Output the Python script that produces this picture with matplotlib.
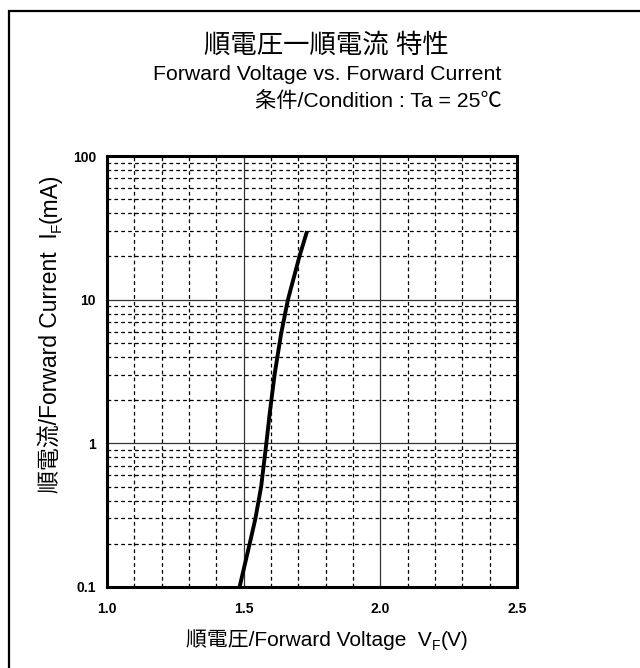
import matplotlib
matplotlib.use("Agg")
import matplotlib.pyplot as plt
from matplotlib.patches import Rectangle
from matplotlib.ticker import FixedLocator, NullFormatter

# Data
vf = [1.485, 1.522, 1.543, 1.564, 1.583, 1.595, 1.613, 1.637, 1.662, 1.704, 1.732]
i_f = [0.1, 0.2, 0.3, 0.5, 1.0, 1.6, 3.0, 5.8, 10.0, 20.0, 30.0]

x_ticks = [1.0, 1.5, 2.0, 2.5]
x_tick_labels = ["1.0", "1.5", "2.0", "2.5"]
y_ticks = [0.1, 1, 10, 100]
y_tick_labels = ["0.1", "1", "10", "100"]
x_minor = [1.1, 1.2, 1.3, 1.4, 1.6, 1.7, 1.8, 1.9, 2.1, 2.2, 2.3, 2.4]
y_minor = [m * d for d in (0.1, 1, 10) for m in range(2, 10)]

title = "順電圧一順電流 特性"
subtitle = "Forward Voltage vs. Forward Current"
condition = "条件/Condition : Ta = 25℃"
xlabel_parts = ["順電圧/Forward Voltage  V", "F", "(V)"]
ylabel_parts = ["順電流/Forward Current  I", "F", "(mA)"]

FONT = ["Liberation Sans", "Noto Sans CJK JP", "DejaVu Sans"]
plt.rcParams["font.family"] = FONT

W, H = 640, 668
fig = plt.figure(figsize=(W / 100, H / 100), dpi=100)

# outer border (left & top visible, right/bottom beyond image)
fig.patches.append(Rectangle((9 / W, -0.1), 1.2, 1 - 11 / H + 0.1, fill=False,
                             lw=1.6, ec="black", transform=fig.transFigure,
                             figure=fig))

ax = fig.add_axes([107 / W, 1 - 587 / H, 410 / W, (587 - 156) / H])
ax.set_yscale("log")
ax.set_xlim(1.0, 2.5)
ax.set_ylim(0.1, 100)

ax.xaxis.set_major_locator(FixedLocator(x_ticks))
ax.yaxis.set_major_locator(FixedLocator(y_ticks))
ax.xaxis.set_minor_locator(FixedLocator(x_minor))
ax.yaxis.set_minor_locator(FixedLocator(y_minor))
ax.yaxis.set_minor_formatter(NullFormatter())
ax.set_xticklabels(x_tick_labels)
ax.set_yticklabels(y_tick_labels)

for lab in ax.get_xticklabels() + ax.get_yticklabels():
    lab.set_fontfamily(["Liberation Sans", "DejaVu Sans"])
    lab.set_fontweight("bold")
    lab.set_fontsize(10)

ax.tick_params(which="both", length=0)
ax.tick_params(axis="x", pad=11)
ax.tick_params(axis="y", pad=8)

ax.grid(True, which="major", color="#333333", lw=0.9, ls="-")
ax.grid(True, which="minor", color="black", lw=0.9, ls=(0, (3, 2.5)))
ax.set_axisbelow(True)

for s in ax.spines.values():
    s.set_linewidth(2.2)
    s.set_color("black")

ax.plot(vf, i_f, color="black", lw=2.8, solid_capstyle="butt", zorder=5)

fig.text(326 / W, 1 - 45 / H, title, ha="center", va="center", fontsize=19)
fig.text(327 / W, 1 - 75 / H, subtitle, ha="center", va="center", fontsize=15.3)
fig.text(502 / W, 1 - 101 / H, condition, ha="right", va="center", fontsize=15.3)

renderer = fig.canvas.get_renderer()


def compose(parts, sizes, drops, center_img, base_img, rotated):
    arts = []
    widths = []
    for s, fs in zip(parts, sizes):
        t = fig.text(0, 0, s, fontsize=fs, ha="left", va="baseline")
        widths.append(t.get_window_extent(renderer).width)
        arts.append(t)
    total = sum(widths)
    if not rotated:
        pos = center_img - total / 2
        for t, w, d in zip(arts, widths, drops):
            t.set_position((pos / W, (H - base_img - d) / H))
            pos += w
    else:
        pos = (H - center_img) - total / 2  # display y start (bottom)
        for t, w, d in zip(arts, widths, drops):
            t.set_rotation(90)
            t.set_rotation_mode("anchor")
            t.set_position(((base_img + d) / W, pos / H))
            pos += w


compose(xlabel_parts, [15, 10, 15], [0, 4, 0], 327, 646, False)
compose(ylabel_parts, [16.5, 11, 16.5], [0, 4, 0], 333, 57, True)

fig.savefig("out.png", dpi=100)
